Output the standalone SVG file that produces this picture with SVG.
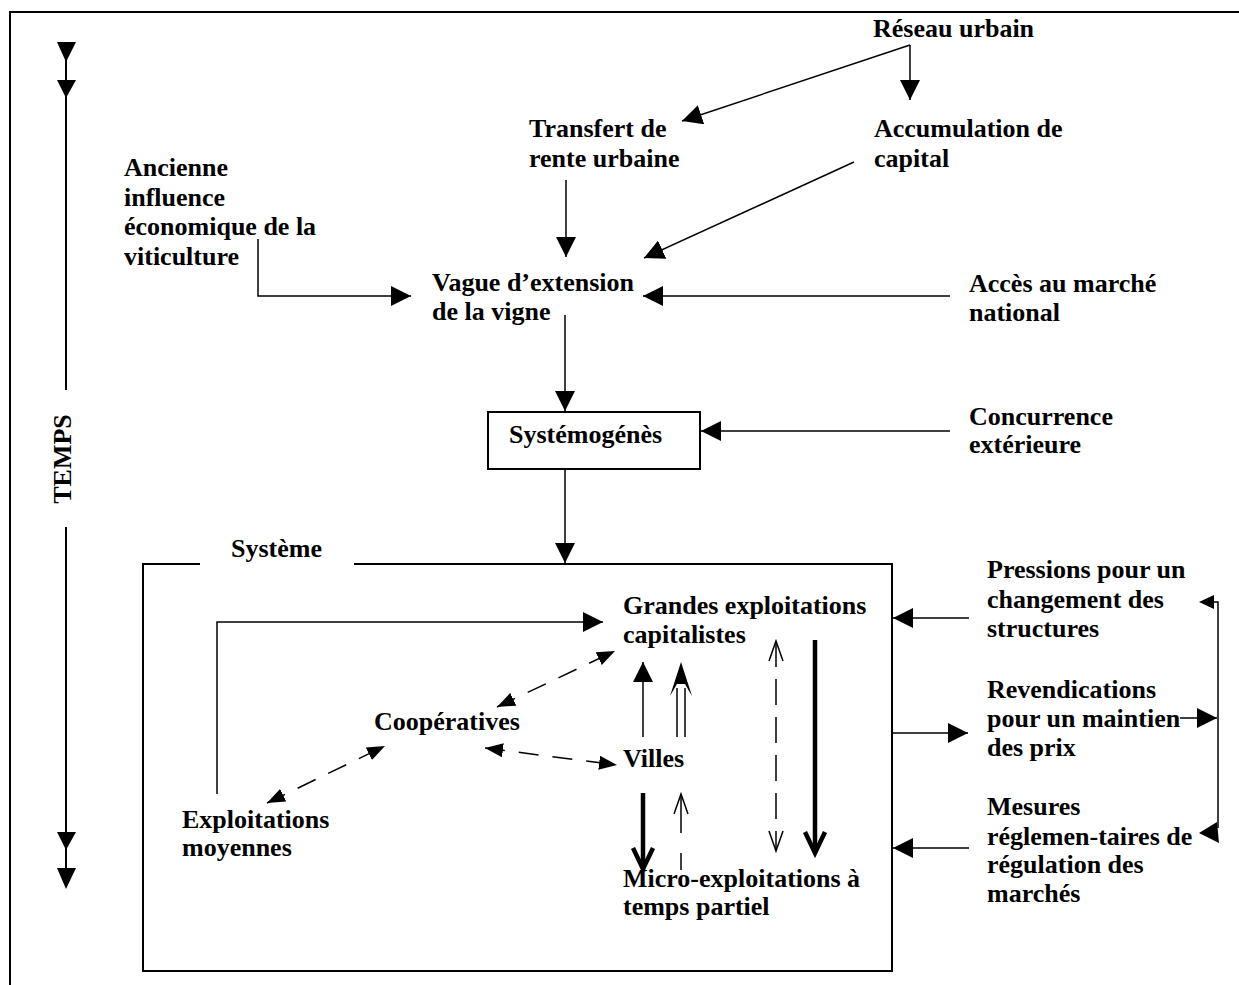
<svg xmlns="http://www.w3.org/2000/svg" width="1239" height="985" viewBox="0 0 1239 985">
<defs>
<style>
text{font-family:"Liberation Serif","Times New Roman",serif;font-weight:bold;font-size:26px;fill:#000}
.ln{stroke:#000;stroke-width:2;fill:none}
.th{stroke:#000;stroke-width:1.5;fill:none}
.dash{stroke:#000;stroke-width:1.5;fill:none;stroke-dasharray:20 14}
.vdash{stroke:#000;stroke-width:1.5;fill:none;stroke-dasharray:26 12}
.thick{stroke:#000;stroke-width:4.5;fill:none}
.head{fill:#000;stroke:none}
</style>
<marker id="ah" markerUnits="userSpaceOnUse" markerWidth="20" markerHeight="20" refX="20" refY="10" orient="auto"><path d="M0,0 L20,10 L0,20 z" fill="#000"/></marker>
<marker id="ahs" markerUnits="userSpaceOnUse" markerWidth="18" markerHeight="14" refX="18" refY="7" orient="auto"><path d="M0,0 L18,7 L0,14 z" fill="#000"/></marker>
<marker id="ahs0" markerUnits="userSpaceOnUse" markerWidth="18" markerHeight="14" refX="0" refY="7" orient="auto"><path d="M18,0 L0,7 L18,14 z" fill="#000"/></marker>
<marker id="open" markerUnits="userSpaceOnUse" markerWidth="24" markerHeight="18" refX="22" refY="9" orient="auto"><path d="M2,2 L22,9 L2,16" fill="none" stroke="#000" stroke-width="1.5"/></marker>
<marker id="open0" markerUnits="userSpaceOnUse" markerWidth="24" markerHeight="18" refX="2" refY="9" orient="auto"><path d="M22,2 L2,9 L22,16" fill="none" stroke="#000" stroke-width="1.5"/></marker>
<marker id="chev" markerUnits="userSpaceOnUse" markerWidth="30" markerHeight="30" refX="25" refY="15" orient="auto"><path d="M4,5 L25,15 L4,25" fill="none" stroke="#000" stroke-width="4.5" stroke-linejoin="miter"/></marker>
</defs>
<rect width="1239" height="985" fill="#fff"/>

<g id="frame">
<path class="ln" d="M10,985 L10,12 L1239,12" stroke-width="2.5"/>
</g>

<g id="time-axis">
<line class="ln" x1="66" y1="44" x2="66" y2="390"/>
<line class="ln" x1="66" y1="527" x2="66" y2="880"/>
<polygon class="head" points="57,42 76,42 66,62"/>
<polygon class="head" points="57,80 76,80 66,98"/>
<polygon class="head" points="57,832 76,832 66,850"/>
<polygon class="head" points="57,868 76,868 66,889"/>
<text transform="translate(71,459) rotate(-90)" text-anchor="middle">TEMPS</text>
</g>

<g id="reseau-urbain"><text x="873" y="37">Réseau urbain</text></g>
<g id="transfert"><text x="529" y="137">Transfert de</text><text x="529" y="167">rente urbaine</text></g>
<g id="accumulation"><text x="874" y="137">Accumulation de</text><text x="874" y="167">capital</text></g>
<g id="ancienne"><text x="124" y="176">Ancienne</text><text x="124" y="206">influence</text><text x="124" y="235">économique de la</text><text x="124" y="265">viticulture</text></g>
<g id="vague"><text x="432" y="291">Vague d’extension</text><text x="432" y="320">de la vigne</text></g>
<g id="acces"><text x="969" y="292">Accès au marché</text><text x="969" y="321">national</text></g>
<g id="systemogenes"><rect x="488" y="412" width="212" height="57" fill="none" stroke="#000" stroke-width="2"/><text x="509" y="443">Systémogénès</text></g>
<g id="concurrence"><text x="969" y="425">Concurrence</text><text x="969" y="453">extérieure</text></g>

<g id="systeme">
<path class="ln" d="M200,564 L143,564 L143,971 L892,971 L892,564 L354,564"/>
<text x="231" y="557">Système</text>
</g>
<g id="grandes"><text x="623" y="614">Grandes exploitations</text><text x="623" y="643">capitalistes</text></g>
<g id="cooperatives"><text x="374" y="730">Coopératives</text></g>
<g id="villes"><text x="623" y="767">Villes</text></g>
<g id="exploitations-moyennes"><text x="182" y="828">Exploitations</text><text x="182" y="856">moyennes</text></g>
<g id="micro"><text x="623" y="887">Micro-exploitations à</text><text x="623" y="915">temps partiel</text></g>
<g id="pressions"><text x="987" y="578">Pressions pour un</text><text x="987" y="608">changement des</text><text x="987" y="637">structures</text></g>
<g id="revendications"><text x="987" y="698">Revendications</text><text x="987" y="727">pour un maintien</text><text x="987" y="756">des prix</text></g>
<g id="mesures"><text x="987" y="815">Mesures</text><text x="987" y="845">réglemen-taires de</text><text x="987" y="873">régulation des</text><text x="987" y="902">marchés</text></g>

<g id="connectors">
<line class="th" x1="910" y1="45" x2="910" y2="100" marker-end="url(#ah)"/>
<line class="th" x1="910" y1="45" x2="682" y2="121" marker-end="url(#ah)"/>
<line class="th" x1="566" y1="180" x2="566" y2="257" marker-end="url(#ah)"/>
<line class="th" x1="854" y1="162" x2="644" y2="258" marker-end="url(#ah)"/>
<path class="th" d="M258,239 L258,296 L411,296" marker-end="url(#ah)"/>
<line class="th" x1="950" y1="296" x2="643" y2="296" marker-end="url(#ah)"/>
<line class="th" x1="565" y1="315" x2="565" y2="411" marker-end="url(#ah)"/>
<line class="th" x1="950" y1="431" x2="701" y2="431" marker-end="url(#ah)"/>
<line class="th" x1="565" y1="469" x2="565" y2="563" marker-end="url(#ah)"/>

<path class="th" d="M217,794 L217,622 L603,622" marker-end="url(#ah)"/>
<line class="dash" x1="267" y1="803" x2="385" y2="746" marker-start="url(#ahs0)" marker-end="url(#ahs)"/>
<line class="dash" x1="497" y1="707" x2="615" y2="651" marker-start="url(#ahs0)" marker-end="url(#ahs)"/>
<line class="dash" x1="485" y1="748" x2="617" y2="765" marker-start="url(#ahs0)" marker-end="url(#ahs)"/>
<line class="th" x1="643" y1="737" x2="643" y2="662" marker-end="url(#ah)"/>
<line class="th" x1="677" y1="737" x2="677" y2="688"/>
<line class="th" x1="685" y1="737" x2="685" y2="688"/>
<polygon class="head" points="681,662 670,696 677,684 685,684 692,696"/>
<line class="thick" x1="643" y1="793" x2="643" y2="869" marker-end="url(#chev)"/>
<line class="th" x1="681" y1="870" x2="681" y2="853"/>
<line class="th" x1="681" y1="833" x2="681" y2="794" marker-end="url(#open)"/>
<line class="vdash" x1="776" y1="641" x2="776" y2="851" marker-start="url(#open0)" marker-end="url(#open)"/>
<line class="thick" x1="815" y1="640" x2="815" y2="853" marker-end="url(#chev)"/>

<line class="th" x1="969" y1="618" x2="893" y2="618" marker-end="url(#ah)"/>
<line class="th" x1="892" y1="733" x2="968" y2="733" marker-end="url(#ah)"/>
<line class="th" x1="969" y1="848" x2="893" y2="848" marker-end="url(#ah)"/>
<path class="th" d="M1213,602 L1218,602 L1218,828"/>
<polygon class="head" points="1199,602 1214,595 1214,609"/>
<line class="th" x1="1180" y1="718" x2="1217" y2="718" marker-end="url(#ah)"/>
<polygon class="head" points="1199,833 1217,822 1219,843"/>
</g>
</svg>
